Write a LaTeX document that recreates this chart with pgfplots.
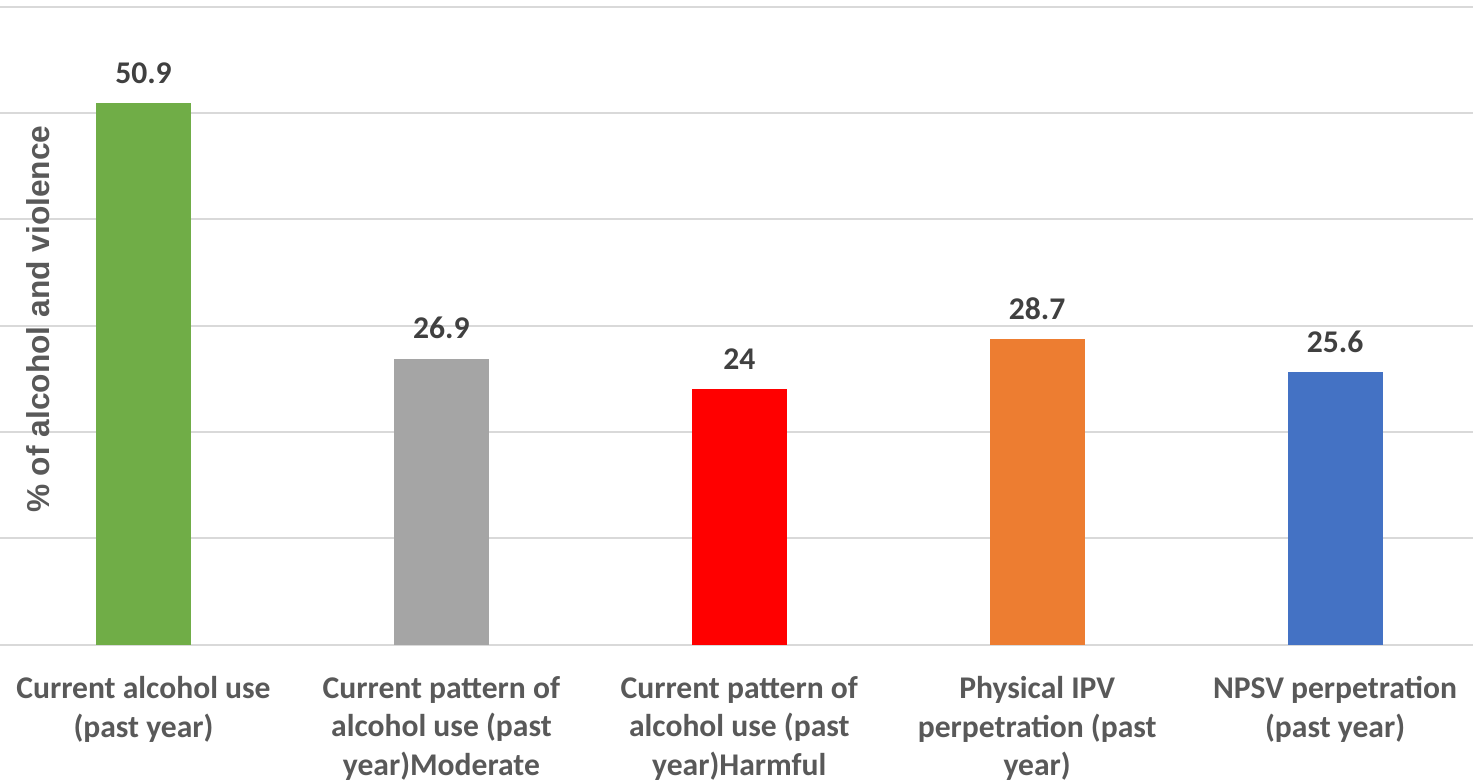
\documentclass[border=0pt]{standalone}
\usepackage{pgfplots}
\pgfplotsset{compat=1.18}
\usepackage{fontspec}
\setmainfont{Carlito}
\newfontfamily\arialfont{Liberation Sans}
\definecolor{gridgray}{HTML}{D9D9D9}
\definecolor{labelgray}{HTML}{595959}
\definecolor{valgray}{HTML}{404040}
\definecolor{cgreen}{HTML}{70AD47}
\definecolor{cgray}{HTML}{A5A5A5}
\definecolor{cred}{HTML}{FF0000}
\definecolor{corange}{HTML}{ED7D31}
\definecolor{cblue}{HTML}{4472C4}
\newcommand{\chartfont}{\bfseries\fontsize{15.8}{19.3}\selectfont}
\begin{document}
\begin{tikzpicture}
\useasboundingbox (0,0) rectangle (736.5pt,391pt);
\clip (0,0) rectangle (736.5pt,391pt);
\begin{axis}[
  at={(0pt,68.75pt)}, anchor=south west,
  scale only axis, width=736.5pt, height=318.9pt,
  xmin=-0.4817, xmax=4.4630, ymin=0, ymax=60,
  ytick={0,10,...,60}, yticklabels={},
  ymajorgrids, grid style={gridgray, line width=1pt},
  xtick={0,1,2,3,4},
  xticklabels={
    {Current alcohol use\\(past year)},
    {Current pattern of\\alcohol use (past\\year)Moderate},
    {Current pattern of\\alcohol use (past\\year)Harmful},
    {Physical IPV\\perpetration (past\\year)},
    {NPSV perpetration\\(past year)}},
  xtick style={draw=none}, ytick style={draw=none},
  axis line style={draw=none},
  xticklabel style={align=center, font=\chartfont, text=labelgray, anchor=north, inner sep=0pt, yshift=-11.5pt},
  ybar, bar width=47.5pt,
  /pgf/number format/assume math mode=true,
  nodes near coords,
  every node near coord/.append style={font=\chartfont, text=valgray, inner sep=0pt, anchor=south, yshift=9.5pt},
  ylabel={\% of alcohol and violence},
  ylabel style={at={(axis description cs:0.0258,0.51)}, anchor=center,
    font=\arialfont\bfseries\fontsize{15.85}{19}\selectfont, text=labelgray},
  clip=false,
]
\addplot[fill=cgreen, draw=none, bar shift=0pt] coordinates {(0,50.9)};
\addplot[fill=cgray, draw=none, bar shift=0pt] coordinates {(1,26.9)};
\addplot[fill=cred, draw=none, bar shift=0pt] coordinates {(2,24)};
\addplot[fill=corange, draw=none, bar shift=0pt] coordinates {(3,28.7)};
\addplot[fill=cblue, draw=none, bar shift=0pt] coordinates {(4,25.6)};
\end{axis}
\end{tikzpicture}
\end{document}
